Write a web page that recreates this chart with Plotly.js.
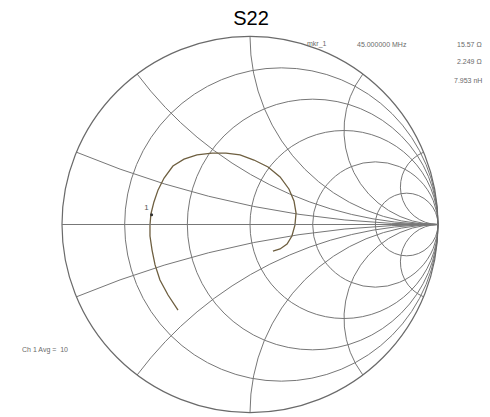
<!DOCTYPE html>
<html>
<head>
<meta charset="utf-8">
<script src="https://cdn.plot.ly/plotly-3.0.1.min.js"></script>
<style>html,body{margin:0;padding:0;background:#fff;}#chart{width:490px;height:417px;}</style>
</head>
<body>
<div id="chart"></div>
<script>
const gammaRe = [-0.383,-0.436,-0.479,-0.505,-0.521,-0.532,-0.532,-0.527,-0.511,-0.489,-0.457,-0.410,-0.351,-0.282,-0.202,-0.128,-0.053,0.021,0.096,0.160,0.207,0.234,0.245,0.239,0.223,0.197,0.160,0.122];
const gammaIm = [-0.455,-0.375,-0.295,-0.215,-0.136,-0.061,-0.003,0.056,0.120,0.184,0.247,0.311,0.348,0.370,0.380,0.380,0.370,0.343,0.306,0.253,0.189,0.125,0.061,-0.003,-0.061,-0.104,-0.130,-0.141];
// Marker 1 readout
const markerLabel = ["1"];
const markerR = [15.57];   // ohm
const markerX = [2.249];   // ohm
const z0 = 50;
const realGrid = [0.2, 0.5, 1, 2, 5];
const imagGrid = [-5, -2, -1, -0.5, -0.2, 0.2, 0.5, 1, 2, 5];
const readout = ["mkr_1", "45.000000 MHz", "15.57 Ω", "2.249 Ω", "7.953 nH"];
const avgText = ["Ch 1 Avg =  10"];

// convert Gamma to normalized impedance for scattersmith
const zRe = [], zIm = [];
for (let i = 0; i < gammaRe.length; i++) {
  const a = gammaRe[i], b = gammaIm[i];
  const nr = 1 + a, ni = b, dr = 1 - a, di = -b;
  const den = dr*dr + di*di;
  zRe.push((nr*dr + ni*di)/den);
  zIm.push((ni*dr - nr*di)/den);
}

const traces = [
  {type:'scattersmith', real:zRe, imag:zIm, mode:'lines',
   line:{color:'#6e5f40', width:1.3}, hoverinfo:'none', showlegend:false},
  {type:'scattersmith', real:markerR.map(v=>v/z0), imag:markerX.map(v=>v/z0),
   mode:'markers+text', text:markerLabel, textposition:'top left',
   textfont:{size:8, color:'#555', family:'Liberation Sans, Arial, sans-serif'},
   marker:{size:3, color:'#333'}, hoverinfo:'none', showlegend:false}
];

const W = 490, H = 417;
const px = x => x / W, py = y => 1 - y / H;
const tf = {family:'Liberation Sans, Arial, sans-serif', size:7, color:'#6a6a6a'};
function ann(text, x, y, xa) {
  return {text:text, xref:'paper', yref:'paper', x:px(x), y:py(y), xanchor:xa||'left', yanchor:'middle', showarrow:false, font:tf};
}

const layout = {
  width: W, height: H,
  margin: {l:0, r:0, t:0, b:0},
  paper_bgcolor:'#fff',
  title: {text:'S22', x:px(251), xanchor:'center', y:py(18), yanchor:'middle', yref:'container',
          font:{family:'Liberation Sans, Arial, sans-serif', size:20, color:'#000'}},
  smith: {
    domain: {x:[62/W, 438/W], y:[1-412.5/H, 1-36.5/H]},
    bgcolor:'#fff',
    realaxis: {tickvals:realGrid, showticklabels:false, ticks:'', gridcolor:'#777', gridwidth:1,
               linecolor:'#777', linewidth:1, showline:true},
    imaginaryaxis: {tickvals:imagGrid, showticklabels:false, ticks:'', gridcolor:'#777', gridwidth:1,
                    linecolor:'#6a6a6a', linewidth:1.2, showline:true}
  },
  annotations: [
    ann(readout[0], 305, 44),
    ann(readout[1], 355, 44),
    ann(readout[2], 484, 44, 'right'),
    ann(readout[3], 484, 62, 'right'),
    ann(readout[4], 484, 80, 'right'),
    ann(avgText[0], 20, 350)
  ]
};

Plotly.newPlot('chart', traces, layout, {displayModeBar:false, staticPlot:true});
</script>
</body>
</html>
